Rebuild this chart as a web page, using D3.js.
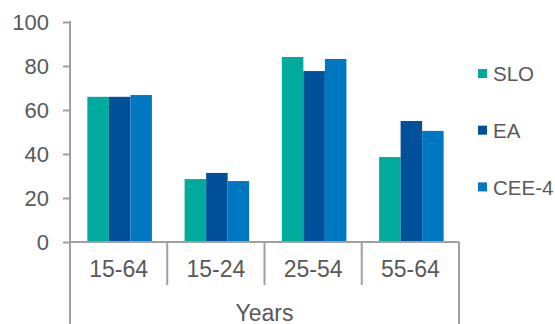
<!DOCTYPE html>
<html>
<head>
<meta charset="utf-8">
<script src="https://cdn.jsdelivr.net/npm/d3@7"></script>
<style>
html,body{margin:0;padding:0;background:#fff;}
svg{display:block;font-family:"Liberation Sans",Arial,sans-serif;}
</style>
</head>
<body>
<svg id="chart" width="555" height="324"></svg>
<script>
const categories = ["15-64", "15-24", "25-54", "55-64"];
const seriesNames = ["SLO", "EA", "CEE-4"];
const sloValues = [66, 28.6, 84.1, 38.6];
const eaValues = [66, 31.4, 77.7, 55];
const ceeValues = [66.8, 27.7, 83.2, 50.5];
const yTicks = [0, 20, 40, 60, 80, 100];
const xTitle = "Years";
const colors = ["#00AA9C", "#00519A", "#0078C1"];

const seriesValues = [sloValues, eaValues, ceeValues];
const svg = d3.select("#chart");
const axisColor = "#A0A0A0";
const textColor = "#595959";

const mLeft = 70, mRight = 459, mTop = 22, mBottom = 242;

const x0 = d3.scaleBand().domain(categories).range([mLeft, mRight]).padding(0);
const x1 = d3.scaleBand().domain(seriesNames).range([0, x0.bandwidth()]).paddingInner(0).paddingOuter(0.76);
const y = d3.scaleLinear().domain([0, 100]).range([mBottom, mTop]);

// bars
const groups = svg.append("g").selectAll("g").data(categories).join("g")
  .attr("transform", d => `translate(${x0(d) + 1},0)`);
groups.selectAll("rect")
  .data((c, i) => seriesNames.map((s, j) => ({s, v: seriesValues[j][i], j})))
  .join("rect")
  .attr("x", d => x1(d.s))
  .attr("width", x1.bandwidth())
  .attr("y", d => y(d.v))
  .attr("height", d => y(0) - y(d.v))
  .attr("fill", d => colors[d.j]);

// y axis
const yAxis = d3.axisLeft(y).tickValues(yTicks).tickSize(7).tickPadding(14).tickFormat(d3.format("d"));
const gy = svg.append("g").attr("transform", `translate(${mLeft},0)`).call(yAxis);
gy.select(".domain").remove();
gy.selectAll(".tick line").attr("stroke", axisColor).attr("stroke-width", 2);
gy.selectAll(".tick text").attr("fill", textColor).style("font-size", "22px")
  .style("font-family", "'Liberation Sans', Arial, sans-serif");
svg.append("line").attr("x1", mLeft).attr("x2", mLeft).attr("y1", mTop - 1).attr("y2", 324)
  .attr("stroke", axisColor).attr("stroke-width", 2);

// x axis
svg.append("line").attr("x1", mLeft).attr("x2", mRight).attr("y1", mBottom).attr("y2", mBottom)
  .attr("stroke", axisColor).attr("stroke-width", 2);
const xAxis = d3.axisBottom(x0).tickSize(0).tickPadding(28);
const gx = svg.append("g").attr("transform", `translate(0,${mBottom})`).call(xAxis);
gx.select(".domain").remove();
gx.selectAll(".tick text").attr("fill", textColor).style("font-size", "23px")
  .style("font-family", "'Liberation Sans', Arial, sans-serif").attr("dy", "0.32em");
// separators
const seps = categories.slice(1).map(c => x0(c));
svg.append("g").selectAll("line").data(seps).join("line")
  .attr("x1", d => d).attr("x2", d => d).attr("y1", mBottom).attr("y2", 285)
  .attr("stroke", axisColor).attr("stroke-width", 2);
svg.append("line").attr("x1", mRight).attr("x2", mRight).attr("y1", mBottom).attr("y2", 324)
  .attr("stroke", axisColor).attr("stroke-width", 2);

svg.append("text").attr("x", (mLeft + mRight) / 2).attr("y", 321).attr("text-anchor", "middle")
  .attr("fill", textColor).style("font-size", "23px").text(xTitle);

// legend
const legend = svg.append("g").selectAll("g").data(seriesNames).join("g")
  .attr("transform", (d, i) => `translate(478,${74 + i * 56.7})`);
legend.append("rect").attr("x", 0).attr("y", -5).attr("width", 9).attr("height", 9)
  .attr("fill", (d, i) => colors[i]);
legend.append("text").attr("x", 15).attr("y", 7.3).attr("fill", textColor)
  .style("font-size", "20.5px").text(d => d);
</script>
</body>
</html>
